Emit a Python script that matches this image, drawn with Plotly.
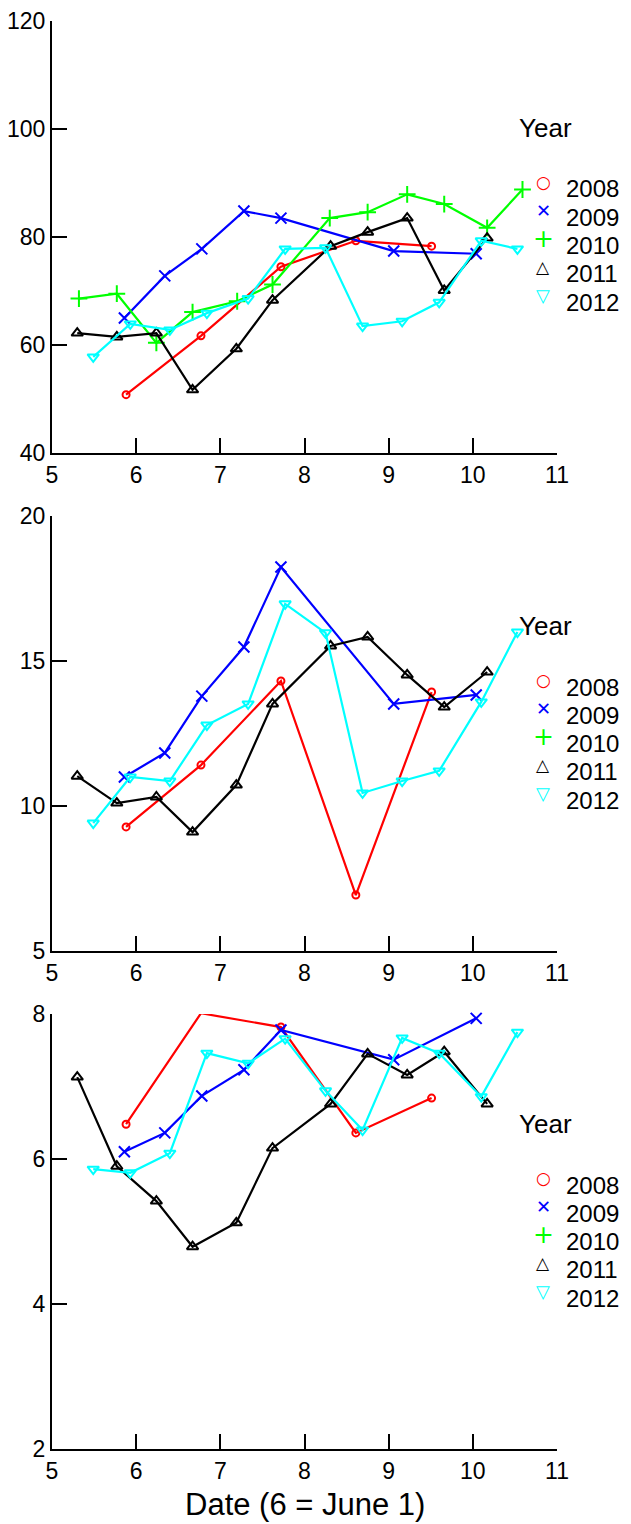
import plotly.graph_objects as go
from plotly.subplots import make_subplots

# ---------------- data ----------------
YEARS = ["2008", "2009", "2010", "2011", "2012"]

DATE_2008 = [5.88, 6.77, 7.72, 8.61, 9.51]
DATE_2009 = [5.86, 6.34, 6.78, 7.28, 7.72, 9.06, 10.04]
DATE_2010 = [5.32, 5.77, 6.24, 6.67, 7.20, 7.62, 8.30, 8.75, 9.22, 9.66, 10.17, 10.59]
DATE_2011 = [5.30, 5.77, 6.24, 6.67, 7.19, 7.62, 8.31, 8.75, 9.22, 9.66, 10.17]
DATE_2012 = [5.49, 5.93, 6.40, 6.84, 7.33, 7.77, 8.25, 8.69, 9.16, 9.60, 10.10, 10.53]

# top panel
TOP_2008 = [50.8, 61.7, 74.5, 79.3, 78.3]
TOP_2009 = [65.0, 72.8, 77.8, 84.8, 83.5, 77.4, 76.9]
TOP_2010 = [68.6, 69.5, 60.4, 66.1, 68.1, 71.2, 83.5, 84.6, 87.9, 86.1, 81.7, 88.8]
TOP_2011 = [62.2, 61.5, 62.2, 51.7, 59.3, 68.3, 78.3, 80.9, 83.5, 70.1, 79.8]
TOP_2012 = [57.8, 63.9, 62.8, 65.9, 68.6, 77.8, 78.0, 63.5, 64.4, 67.9, 79.3, 77.8]

# middle panel
MID_2008 = [9.28, 11.41, 14.31, 6.93, 13.93]
MID_2009 = [11.0, 11.83, 13.79, 15.48, 18.24, 13.52, 13.83]
MID_2010 = None
MID_2011 = [11.03, 10.10, 10.31, 9.10, 10.72, 13.52, 15.52, 15.83, 14.52, 13.41, 14.62]
MID_2012 = [9.41, 11.0, 10.86, 12.79, 13.52, 16.97, 15.97, 10.45, 10.86, 11.21, 13.59, 16.0]

# bottom panel
BOT_2008 = [6.48, 8.01, 7.82, 6.36, 6.84]
BOT_2009 = [6.10, 6.36, 6.87, 7.23, 7.78, 7.37, 7.94]
BOT_2010 = None
BOT_2011 = [7.13, 5.90, 5.42, 4.79, 5.12, 6.15, 6.76, 7.45, 7.16, 7.48, 6.76]
BOT_2012 = [5.86, 5.81, 6.08, 7.46, 7.32, 7.66, 6.94, 6.40, 7.67, 7.46, 6.86, 7.75]

Y_RANGES = [[40, 120], [5, 20], [2, 8]]
Y_DTICKS = [20, 5, 2]
X_RANGE = [5, 11]
X_TITLE = "Date (6 = June 1)"
LEGEND_TITLE = "Year"

DATES = dict(zip(YEARS, [DATE_2008, DATE_2009, DATE_2010, DATE_2011, DATE_2012]))
PANELS = [
    dict(zip(YEARS, [TOP_2008, TOP_2009, TOP_2010, TOP_2011, TOP_2012])),
    dict(zip(YEARS, [MID_2008, MID_2009, MID_2010, MID_2011, MID_2012])),
    dict(zip(YEARS, [BOT_2008, BOT_2009, BOT_2010, BOT_2011, BOT_2012])),
]

# ---------------- style ----------------
COLORS = dict(zip(YEARS, ["#ff0000", "#0000ff", "#00ff00", "#000000", "#00ffff"]))
SYMBOLS = dict(zip(YEARS, ["circle-open", "x-thin-open", "cross-thin-open",
                           "triangle-up-open", "triangle-down-open"]))
SIZES = dict(zip(YEARS, [7, 11, 12, 10, 10]))
GLYPHS = dict(zip(YEARS, ["\u25CB", "\u2715", "+", "\u25B3", "\u25BD"]))
GLYPH_SIZES = dict(zip(YEARS, [17, 18, 25, 17, 18]))

FONT = "Liberation Sans, Arial, sans-serif"

# page offset (browser body margin) and screen-pixel layout targets
OFF = 8
W, H = 631, 1524
SCR_LEFT, SCR_RIGHT = 52, 557
PANEL_TOPS = [18, 516, 1014]          # nominal screen px (legend anchor)
DOMAIN_TOPS = [21, 516, 1014]         # axis tops (room for the top tick label)
PANEL_BOTTOMS = [453, 951, 1449]
SCR_TOP = 18

ML = SCR_LEFT - OFF
MR = W - (SCR_RIGHT - OFF)
MT = SCR_TOP - OFF
MB = H - (PANEL_BOTTOMS[-1] - OFF)
plot_h = H - MT - MB
plot_w = W - ML - MR


def ypaper_raw(sy):
    return 1 - (sy - SCR_TOP) / plot_h


def ypaper(sy):
    return min(1.0, max(0.0, ypaper_raw(sy)))


def xpaper(sx):
    return (sx - SCR_LEFT) / plot_w


fig = make_subplots(rows=3, cols=1)

for r, panel in enumerate(PANELS, start=1):
    for yr in YEARS:
        vals = panel[yr]
        if vals is None:
            continue
        fig.add_trace(
            go.Scatter(
                x=DATES[yr], y=vals, mode="lines+markers", name=yr,
                line=dict(color=COLORS[yr], width=2.2),
                marker=dict(symbol=SYMBOLS[yr], size=SIZES[yr], color=COLORS[yr],
                            line=dict(color=COLORS[yr], width=2)),
                showlegend=False, cliponaxis=False,
            ),
            row=r, col=1,
        )

axis_common = dict(
    showline=True, linecolor="black", linewidth=2,
    ticks="inside", ticklen=15, tickwidth=2, tickcolor="black",
    showgrid=False, zeroline=False, mirror=False, automargin=False,
    ticklabeloverflow="allow",
)

annotations = []
for i in range(3):
    top = PANEL_TOPS[i]
    yname = "yaxis" if i == 0 else f"yaxis{i + 1}"
    xname = "xaxis" if i == 0 else f"xaxis{i + 1}"
    fig.layout[yname].update(
        domain=[ypaper(PANEL_BOTTOMS[i]), ypaper(DOMAIN_TOPS[i])],
        range=Y_RANGES[i], tick0=Y_RANGES[i][0], dtick=Y_DTICKS[i],
        tickfont=dict(family=FONT, size=23, color="black"),
        ticklabelstandoff=0,
        **axis_common,
    )
    fig.layout[xname].update(
        range=X_RANGE, tick0=5, dtick=1,
        tickfont=dict(family=FONT, size=23, color="black"),
        ticklabelstandoff=0,
        **axis_common,
    )
    # legend built as text (compact line spacing as in the original)
    annotations.append(dict(
        text=LEGEND_TITLE, xref="paper", yref="paper",
        x=xpaper(517), y=ypaper_raw(top + 110),
        xanchor="left", yanchor="middle", showarrow=False,
        font=dict(family=FONT, size=26, color="black"),
    ))
    for k, yr in enumerate(YEARS):
        ty = top + 171 + 28.3 * k
        annotations.append(dict(
            text=yr, xref="paper", yref="paper", x=xpaper(564), y=ypaper_raw(ty),
            xanchor="left", yanchor="middle", showarrow=False,
            font=dict(family=FONT, size=24, color="black"),
        ))
        annotations.append(dict(
            text=GLYPHS[yr], xref="paper", yref="paper",
            x=xpaper(543), y=ypaper_raw(ty - 7),
            xanchor="center", yanchor="middle", showarrow=False,
            font=dict(family="DejaVu Sans", size=GLYPH_SIZES[yr], color=COLORS[yr]),
        ))

# x-axis title under the bottom panel
annotations.append(dict(
    text=X_TITLE, xref="paper", yref="paper", x=0.5, y=ypaper_raw(1504),
    xanchor="center", yanchor="middle", showarrow=False,
    font=dict(family=FONT, size=31, color="black"),
))

fig.update_layout(
    width=W, height=H,
    margin=dict(l=ML, r=MR, t=MT, b=MB),
    paper_bgcolor="white", plot_bgcolor="white",
    showlegend=False,
    annotations=annotations,
)

fig.write_html("out.html")
